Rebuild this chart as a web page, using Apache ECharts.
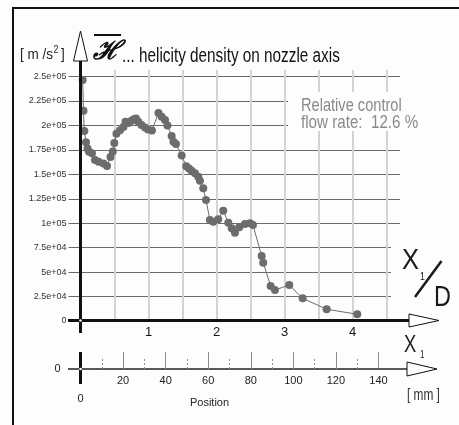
<!DOCTYPE html>
<html>
<head>
<meta charset="utf-8">
<script src="https://cdn.jsdelivr.net/npm/echarts@6/dist/echarts.min.js"></script>
<style>
  html, body { margin: 0; padding: 0; background: #fdfdfd; }
  #chart { width: 459px; height: 425px; }
</style>
</head>
<body>
<div id="chart"></div>
<script>
// Positions along the nozzle axis, in nozzle diameters (x1/D)
const posXD = [
  0.032, 0.044, 0.056, 0.081, 0.103, 0.125, 0.169, 0.213, 0.265, 0.338,
  0.390, 0.441, 0.475, 0.497, 0.529, 0.581, 0.632, 0.662, 0.706, 0.750,
  0.782, 0.816, 0.850, 0.897, 0.949, 0.993, 1.051, 1.147, 1.194, 1.243,
  1.279, 1.341, 1.368, 1.404, 1.488, 1.556, 1.596, 1.635, 1.684, 1.732,
  1.757, 1.806, 1.846, 1.904, 1.953, 2.026, 2.100, 2.174, 2.224, 2.272,
  2.335, 2.419, 2.493, 2.537, 2.665, 2.688, 2.797, 2.860, 3.071, 3.268,
  3.621, 4.071
];
// Mean helicity density on the nozzle axis [m/s^2]
const helicity = [
  246400, 215000, 194300, 182800, 176400, 173100, 171500, 164600, 162900, 161000,
  158500, 167700, 173300, 182000, 191500, 195000, 198400, 203800, 202500, 204700,
  206200, 207100, 203800, 200400, 197900, 195800, 194800, 212700, 208900, 205500,
  199900, 189200, 183300, 181000, 169200, 158200, 155900, 153700, 151000, 147500,
  143500, 135700, 123700, 103200, 101500, 104000, 112800, 100500, 94800, 90300,
  95800, 99200, 99900, 98200, 66500, 59600, 35800, 31700, 36800, 23200,
  12000, 6900
];
// Tick labels of the helicity axis (one per 2.5e4 step)
const yTickLabels = ['0', '2.5e+04', '5e+04', '7.5e+04', '1e+05', '1.25e+05',
  '1.5e+05', '1.75e+05', '2e+05', '2.25e+05', '2.5e+05'];
// Labels on the x1/D axis
const xdTickLabels = ['1', '2', '3', '4'];

const SANS = "'Liberation Sans', Arial, sans-serif";
const BG = '#fdfdfd';
const INK = '#111';
const MARK = '#6c6c6c';

const chart = echarts.init(document.getElementById('chart'), null, { renderer: 'canvas' });

// text element, optionally squeezed horizontally for a condensed look
const T = (x, y, text, size, fill, sx, align, extra) => ({
  type: 'text', z: 120, x: x, y: y, scaleX: sx || 1,
  style: Object.assign({
    text: text, fontSize: size, fontFamily: SANS, fill: fill,
    textAlign: align || 'left', textVerticalAlign: 'middle'
  }, extra || {})
});
const L = (x1, y1, x2, y2, w, c) => ({
  type: 'line', z: 110, shape: { x1: x1, y1: y1, x2: x2, y2: y2 },
  style: { stroke: c || INK, lineWidth: w }
});
const P = (pts) => ({
  type: 'polygon', z: 115, shape: { points: pts },
  style: { fill: '#fff', stroke: INK, lineWidth: 1 }
});

chart.setOption({
  animation: false,
  backgroundColor: BG,
  grid: [
    // vertical grid lines of the x1/D scale
    { left: 80.5, top: 70, width: 306, height: 251, outerBoundsMode: 'none' },
    // horizontal grid lines and the measured curve
    { left: 80.5, top: 76.5, width: 319.5, height: 244.5, outerBoundsMode: 'none' },
    // millimetre scale underneath
    { left: 80.5, top: 340, width: 298, height: 29, outerBoundsMode: 'none' }
  ],
  xAxis: [
    {
      gridIndex: 0, type: 'value', min: 0, max: 4.5, interval: 0.5,
      axisLine: { show: false }, axisTick: { show: false },
      splitLine: { show: true, lineStyle: { color: '#d3d3d3', width: 2 } },
      axisLabel: {
        margin: 5, fontSize: 13, color: '#151515', fontFamily: SANS,
        formatter: v => (Math.abs(v - Math.round(v)) < 1e-6 && v >= 1 && v <= xdTickLabels.length)
          ? xdTickLabels[Math.round(v) - 1] : ''
      }
    },
    { gridIndex: 1, type: 'value', min: 0, max: 4.70, show: false },
    {
      gridIndex: 2, type: 'value', min: 0, max: 140, interval: 20, position: 'bottom',
      axisLine: { show: true, lineStyle: { color: '#222', width: 1.5 } },
      axisTick: { show: true, inside: true, length: 17, lineStyle: { color: '#8c8c8c', width: 1 } },
      minorTick: { show: true, splitNumber: 2, length: 11, lineStyle: { color: '#8c8c8c', width: 1, type: [2, 2] } },
      splitLine: { show: false },
      axisLabel: {
        margin: 6, fontSize: 11, color: '#222', fontFamily: SANS,
        formatter: v => v === 0 ? '{z|0}' : String(v),
        rich: { z: { fontSize: 11, color: '#222', fontFamily: SANS, padding: [18, 0, 0, 0] } }
      },
      name: 'Position', nameLocation: 'middle', nameGap: 28, nameMoveOverlap: false,
      nameTextStyle: { fontSize: 11, color: '#222', fontFamily: SANS, padding: [0, 40, 0, 0] }
    }
  ],
  yAxis: [
    { gridIndex: 0, type: 'value', min: 0, max: 1, show: false },
    {
      gridIndex: 1, type: 'value', min: 0, max: 250000, interval: 25000,
      axisLine: { show: false },
      axisTick: { show: true, length: 12, lineStyle: { color: '#6a6a6a', width: 1 } },
      splitLine: { show: true, lineStyle: { color: '#6a6a6a', width: 1 } },
      axisLabel: {
        margin: 14, fontSize: 9, color: '#333', fontFamily: SANS,
        formatter: v => yTickLabels[Math.round(v / 25000)]
      }
    },
    {
      gridIndex: 2, type: 'value', min: 0, max: 1, interval: 1,
      axisLine: { show: false }, axisTick: { show: false }, splitLine: { show: false },
      axisLabel: { margin: 20, fontSize: 11, color: '#222', fontFamily: SANS, formatter: v => v === 0 ? '0' : '' }
    }
  ],
  series: [{
    type: 'line',
    xAxisIndex: 1, yAxisIndex: 1,
    data: posXD.map((x, i) => [x, helicity[i]]),
    symbol: 'circle', symbolSize: 8,
    lineStyle: { color: MARK, width: 1 },
    itemStyle: { color: MARK },
    z: 5
  }],
  graphic: {
    elements: [
      // outer frame
      { type: 'rect', z: 100, shape: { x: 13, y: 8, width: 460, height: 430 },
        style: { fill: 'none', stroke: INK, lineWidth: 2 } },
      // backdrops behind the annotations
      { type: 'rect', z: 101, shape: { x: 288, y: 92, width: 150, height: 39 }, style: { fill: BG } },
      { type: 'rect', z: 101, shape: { x: 391, y: 236, width: 62, height: 74 }, style: { fill: BG } },

      // main axes with arrow heads
      L(80.5, 60, 80.5, 333, 3),
      L(68, 320.5, 409, 320.5, 3),
      P([[80.5, 31], [73.5, 61], [87.5, 61]]),
      P([[409, 314], [439, 320.5], [409, 327]]),
      { type: 'circle', z: 116, shape: { cx: 80.5, cy: 320.5, r: 1.3 }, style: { fill: '#fff' } },

      // millimetre axis extensions and arrow
      L(68, 369, 80.5, 369, 1.5, '#222'),
      L(378.5, 369, 407, 369, 1.5, '#222'),
      L(80.5, 352, 80.5, 384, 3),
      P([[407, 362], [437, 369], [407, 376]]),
      { type: 'circle', z: 116, shape: { cx: 80.5, cy: 369, r: 1.3 }, style: { fill: '#fff' } },

      // title: mean helicity density symbol and caption
      L(94, 35, 121, 35, 2),
      T(107, 52, '\u210B', 26, INK, 1, 'center', { fontFamily: "'DejaVu Serif', serif", fontStyle: 'italic', fontWeight: 'bold' }),
      T(122, 57, '... helicity density on nozzle axis', 19.5, INK, 0.785),

      // unit of the vertical axis
      T(20, 55, '[ m /s', 15, '#222', 0.9),
      T(53.5, 50, '2', 10, '#222', 0.9),
      T(61, 55, ']', 15, '#222', 0.9),

      // operating point note
      T(301, 106, 'Relative control', 18.5, '#8a8a8a', 0.79),
      T(301, 123, 'flow rate:  12.6 %', 18.5, '#8a8a8a', 0.82),

      // x1/D axis title
      T(402, 261, 'X', 30, '#1a1a1a', 0.85),
      T(420, 277, '1', 11, '#1a1a1a', 0.8),
      L(441.5, 261, 415, 297, 2.5, '#1a1a1a'),
      T(434, 298, 'D', 30, '#1a1a1a', 0.78),

      // x1 axis title and unit
      T(404, 346, 'X', 23, '#1a1a1a', 0.8),
      T(420, 355, '1', 10, '#1a1a1a', 0.8),
      T(407, 396, '[ mm ]', 16, '#333', 0.74)
    ]
  }
});
</script>
</body>
</html>
